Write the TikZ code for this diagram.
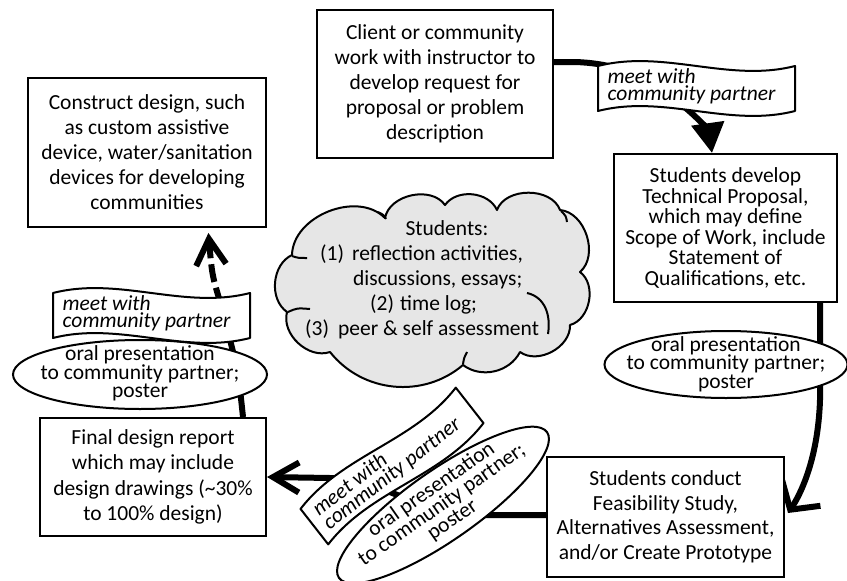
\documentclass[tikz,border=0pt]{standalone}
\usepackage{fontspec}
\setmainfont{Carlito}
\usetikzlibrary{arrows.meta,shapes.geometric,calc}

\definecolor{cloudgray}{RGB}{230,230,230}
\pgfdeclarelayer{bg}
\pgfsetlayers{bg,main}

\tikzset{
  procbox/.style={draw, line width=2pt, fill=white, align=center, inner sep=0pt,
    font=\fontsize{21.5}{#1}\selectfont},
  ovalshape/.style={ellipse, draw, line width=2pt, fill=white, inner sep=0pt},
  ovaltext/.style={align=center, inner sep=0pt, font=\fontsize{21.5}{18.5}\selectfont},
  bannerline/.style={draw, line width=2pt, fill=white, line join=round},
  bannertext/.style={align=left, inner sep=0pt, font=\itshape\fontsize{21.5}{17}\selectfont},
  cloudline/.style={draw, line width=2pt, line join=round},
  cloudtext/.style={anchor=base west, inner sep=0pt, font=\fontsize{21.5}{25}\selectfont},
  flow/.style={line width=6pt},
}

% wavy banner: #1 name, #2 centre, #3 angle, #4 text
\newcommand\wavebanner[4]{%
  \begin{scope}[shift={#2}, rotate=#3]
    \path[bannerline] (-98.5,-22.5) .. controls (-32.5,-39.5) and (32.5,-5.5) .. (98.5,-22.5)
      -- (98.5,22.5) .. controls (32.5,39.5) and (-32.5,5.5) .. (-98.5,22.5) -- cycle;
    \node[bannertext, anchor=west, transform shape] (#1) at (-89,-2) {#4};
  \end{scope}}

\begin{document}
\begin{tikzpicture}[x=1pt,y=-1pt]
\useasboundingbox (0,0) rectangle (847,581);
\begin{pgfonlayer}{bg}
  \fill[white] (0,0) rectangle (847,581);
\end{pgfonlayer}

% process boxes
\node[procbox=25, minimum width=236pt, minimum height=148pt] (client) at (435,84)
  {Client or community\\work with instructor to\\develop request for\\proposal or problem\\description};
\node[procbox=20.5, minimum width=223pt, minimum height=148pt] (dev) at (725.5,228)
  {Students develop\\Technical Proposal,\\which may define\\Scope of Work, include\\Statement of\\Qualifications, etc.};
\node[procbox=24.5, minimum width=237pt, minimum height=120pt] (feas) at (665.5,517)
  {Students conduct\\Feasibility Study,\\Alternatives Assessment,\\and/or Create Prototype};
\node[procbox=25.5, minimum width=226pt, minimum height=118pt] (final) at (153,477)
  {Final design report\\which may include\\design drawings (\textasciitilde30\%\\to 100\% design)};
\node[procbox=25, minimum width=238pt, minimum height=149pt] (construct) at (147,152.5)
  {Construct design, such\\as custom assistive\\device, water/sanitation\\devices for developing\\communities};

% reflection cloud: puffs traced clockwise, then the short inner strokes
\path[cloudline, fill=cloudgray]
  (287,312) to[bend left=60] (292,255) to[bend left=67] (385,218)
  to[bend left=67] (445,205) to[bend left=60] (497,210) to[bend left=70] (560,210)
  to[bend left=67] (580,272) to[bend left=64] (570,325) to[bend left=64] (520,352)
  to[bend left=50] (463,365) to[bend left=46] (330,352) to[bend left=62] (287,312) -- cycle;
\draw[cloudline] (292,256) .. controls (298,258) .. (307,258);
\draw[cloudline] (386,219) .. controls (384,215) .. (378,212);
\draw[cloudline] (561,211) .. controls (566,216) .. (567,222);
\draw[cloudline] (527,293) .. controls (545,297) and (551,315) .. (548,334);
\draw[cloudline] (463,364) .. controls (464,358) .. (467,352);
\draw[cloudline] (288,312) .. controls (297,308) .. (310,309);
\node[cloudtext, anchor=base] (c1) at (447,235) {Students:};
\node[cloudtext] (c2) at (320,260) {(1)\hspace{8pt}reflection activities,};
\node[cloudtext] (c3) at (353,285) {discussions, essays;};
\node[cloudtext] (c4) at (370,310) {(2)\hspace{6pt}time log;};
\node[cloudtext] (c5) at (305,335) {(3)\hspace{9pt}peer \& self assessment};

% presentation ovals
\node[ovalshape, minimum width=243pt, minimum height=67pt] (ovr) at (726,364.5) {};
\node[ovaltext] (ovrt) at (726,364) {oral presentation\\to community partner;\\poster};
\node[ovalshape, minimum width=254pt, minimum height=69pt] (ovl) at (140,374.5) {};
\node[ovaltext] (ovlt) at (140,373.5) {oral presentation\\to community partner;\\poster};
\node[ovalshape, minimum width=254pt, minimum height=70pt, rotate=35] (ovm) at (443,505) {};
\node[ovaltext, rotate=35] (ovmt) at (442,505) {oral presentation\\to community partner;\\poster};

% meeting banners
\wavebanner{bant}{(696.5,88.5)}{0}{meet with\\community partner}
\wavebanner{banl}{(151.5,315.5)}{0}{meet with\\community partner}
\wavebanner{banm}{(392,466)}{38}{meet with\\community partner}

% connectors, kept underneath the shapes
\coordinate (brk) at (221,305);
\begin{pgfonlayer}{bg}
  \draw[flow, -{Triangle[length=30pt,width=32pt]}]
    ([yshift=22pt]client.east) -- (575,62) .. controls (640,64) and (670,95) .. (688,110)
    .. controls (702,122) and (709,132) .. ([xshift=-13.5pt]dev.north);
  \draw[flow, -{Straight Barb[length=20pt,width=46pt]}]
    ([xshift=94.5pt]dev.south) -- (820,400) .. controls (818,460) and (800,495) .. ([xshift=3pt,yshift=4pt]feas.east);
  \draw[flow, -{Straight Barb[length=26pt,width=30pt]}]
    ([yshift=2pt]feas.west) -- (480,515) .. controls (420,515) and (380,478) .. (330,478) -- (final.east);
  \draw[flow] ([xshift=90pt]final.north) .. controls (238,370) .. (brk);
  \draw[flow, dash pattern=on 18pt off 6pt, shorten >=5pt, -{Straight Barb[length=26pt,width=30pt]}]
    (brk) .. controls (212,275) .. ([xshift=61pt]construct.south);
\end{pgfonlayer}
\end{tikzpicture}
\end{document}
